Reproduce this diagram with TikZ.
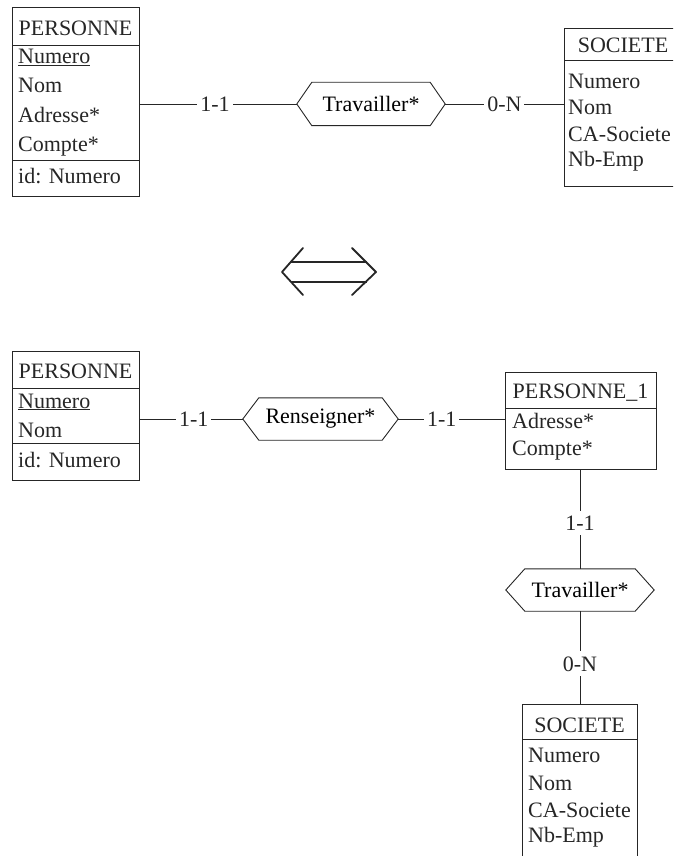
\documentclass[tikz,border=0pt]{standalone}
\usepackage{fontspec}
\setmainfont{Liberation Serif}
\begin{document}
\begin{tikzpicture}[x=1pt,y=-1pt,
  ink/.style={draw=black!85, line width=0.9pt},
  entbox/.style={ink, inner sep=0pt},
  hexcore/.style={inner sep=0pt, font=\fsz},
  hdr/.style={anchor=base, inner sep=0pt, font=\fsz, text=black!85},
  attr/.style={anchor=base west, inner sep=0pt, font=\fsz, text=black!85},
  card/.style={fill=white, inner xsep=3pt, inner ysep=5pt, font=\fsz, text=black!85}]
\newcommand\fsz{\fontsize{22}{26}\selectfont}
% hexagonal relationship frame around a named node
\newcommand\hexframe[2]{\draw[ink] (#1.west) -- ([xshift=#2]#1.north west) -- ([xshift=-#2]#1.north east) -- (#1.east) -- ([xshift=-#2]#1.south east) -- ([xshift=#2]#1.south west) -- cycle;}
\useasboundingbox (0,0) rectangle (673,856);
\begin{scope}
\clip (0,0) rectangle (673,856);

% ---------- upper schema ----------
\node[entbox, minimum width=127pt, minimum height=189pt] (p1) at (75.5,101.5) {};
\draw[ink] (12,45) -- (139,45);
\draw[ink] (12,160) -- (139,160);
\node[hdr] (p1h) at (75.5,36) {PERSONNE};
\node[attr] (p1a) at (18,64) {\underline{Numero}};
\node[attr] (p1b) at (18,93) {Nom};
\node[attr] (p1c) at (18,122) {Adresse*};
\node[attr] (p1d) at (18,151) {Compte*};
\node[attr] (p1e) at (18,183) {id: Numero};

\node[entbox, minimum width=118pt, minimum height=158pt] (s1) at (623,107) {};
\draw[ink] (564,60) -- (682,60);
\node[hdr] (s1h) at (623,53) {SOCIETE};
\node[attr] (s1a) at (568,89) {Numero};
\node[attr] (s1b) at (568,115) {Nom};
\node[attr] (s1c) at (568,141) {CA-Societe};
\node[attr] (s1d) at (568,166) {Nb-Emp};

\node[hexcore, minimum width=148pt, minimum height=43pt] (t1) at (371,104) {Travailler*};
\hexframe{t1}{15pt}
\draw[ink] (t1.west -| p1.east) -- node[card, pos=0.48] (c1) {1-1} (t1.west);
\draw[ink] (t1.east) -- node[card, pos=0.5] (c2) {0-N} (t1.east -| s1.west);

% ---------- equivalence sign ----------
\draw[draw=black!85, line width=1.8pt, line cap=round, line join=round]
  (303,248) -- (282,272) -- (303,295)
  (352,248) -- (376,272) -- (352,295);
\draw[draw=black!85, line width=1.8pt] (291,262) -- (367,262) (291,282) -- (367,282);

% ---------- lower schema ----------
\node[entbox, minimum width=127pt, minimum height=129pt] (p2) at (75.5,415.5) {};
\draw[ink] (12,388) -- (139,388);
\draw[ink] (12,443) -- (139,443);
\node[hdr] (p2h) at (75.5,378) {PERSONNE};
\node[attr] (p2a) at (18,408) {\underline{Numero}};
\node[attr] (p2b) at (18,437) {Nom};
\node[attr] (p2c) at (18,467) {id: Numero};

\node[entbox, minimum width=151pt, minimum height=97pt] (q) at (580.5,420.5) {};
\draw[ink] (505,408) -- (656,408);
\node[hdr] (qh) at (580.5,398) {PERSONNE\_1};
\node[attr] (qa) at (512,428) {Adresse*};
\node[attr] (qb) at (512,455) {Compte*};

\node[hexcore, minimum width=155pt, minimum height=42pt] (r) at (320.5,419) {Renseigner*};
\hexframe{r}{16pt}
\draw[ink] (r.west -| p2.east) -- node[card, pos=0.525] (c3) {1-1} (r.west);
\draw[ink] (r.east) -- node[card, pos=0.41] (c4) {1-1} (r.east -| q.west);

\node[hexcore, minimum width=148pt, minimum height=42pt] (tv) at (580,590) {Travailler*};
\hexframe{tv}{19pt}

\node[entbox, minimum width=115pt, minimum height=166pt] (s2) at (579.5,787) {};
\draw[ink] (522,739) -- (637,739);
\node[hdr] (s2h) at (579.5,732) {SOCIETE};
\node[attr] (s2a) at (528,762) {Numero};
\node[attr] (s2b) at (528,790) {Nom};
\node[attr] (s2c) at (528,817) {CA-Societe};
\node[attr] (s2d) at (528,842) {Nb-Emp};

\draw[ink] (tv.north |- q.south) -- node[card, pos=0.54] (c5) {1-1} (tv.north);
\draw[ink] (tv.south) -- node[card, pos=0.57] (c6) {0-N} (tv.south |- s2.north);
\end{scope}
\end{tikzpicture}
\end{document}
